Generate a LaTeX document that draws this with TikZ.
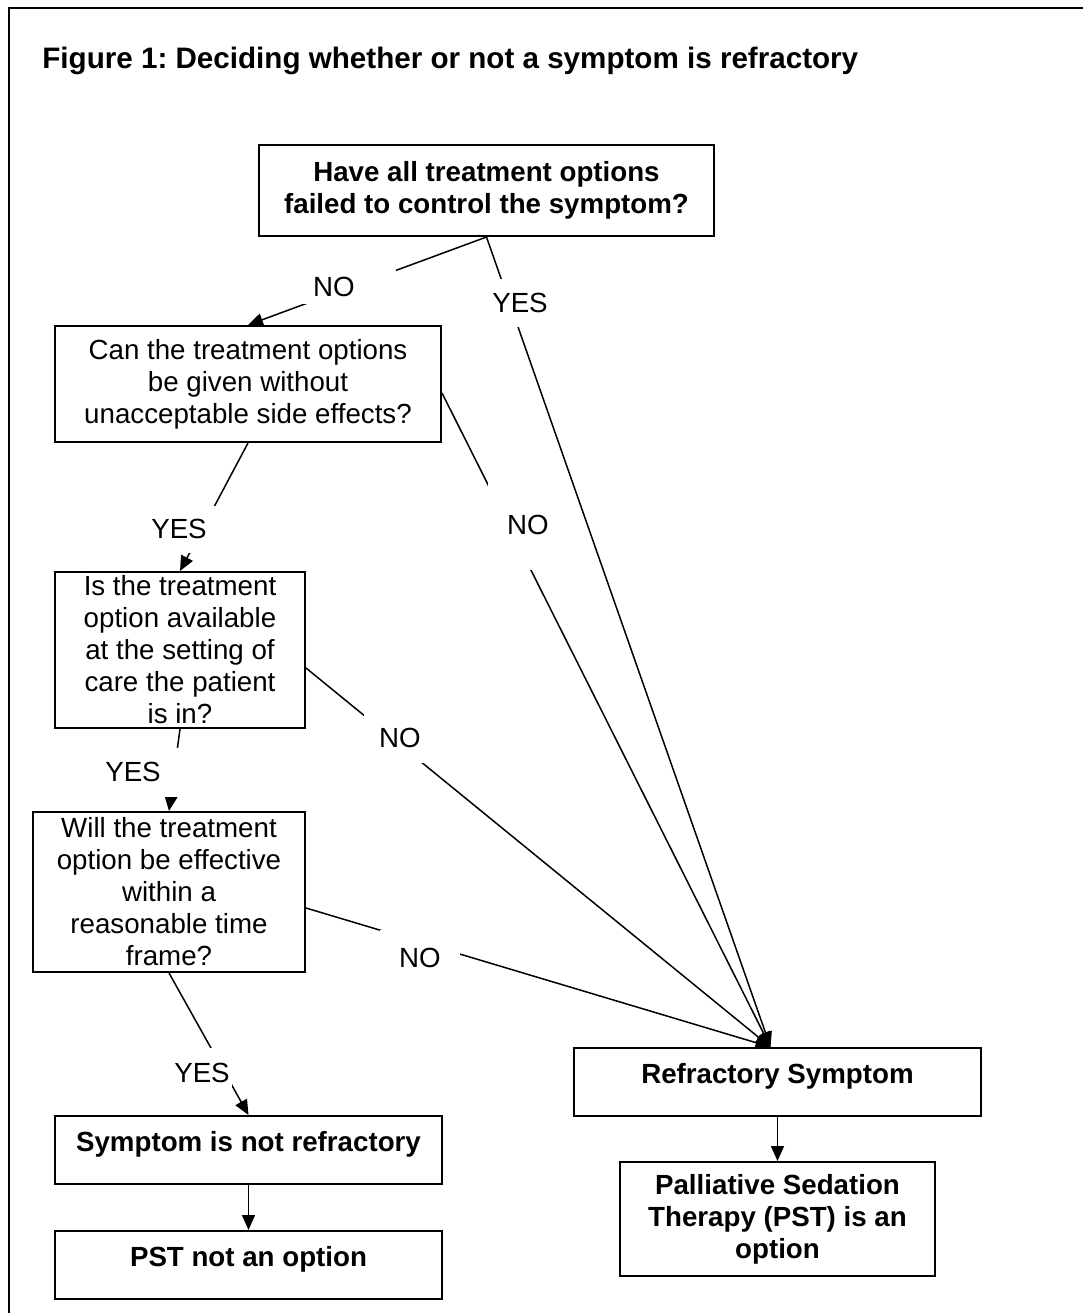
\documentclass[tikz,border=0pt]{standalone}
\usepackage{fontspec}
\setmainfont{Liberation Sans}
\usetikzlibrary{positioning,arrows.meta}
\newcommand{\boxfont}{\fontsize{13.85}{16}\selectfont}
\newcommand{\headfont}{\fontsize{14.8}{17}\selectfont\bfseries}
\tikzset{
  qbox/.style={draw, line width=1pt, align=center, inner sep=0pt, font=\boxfont},
  qbold/.style={qbox, font=\boxfont\bfseries},
  endbox/.style={qbold, text depth=9pt},
  lbl/.style={fill=white, inner sep=0pt, font=\boxfont},
  conn/.style={->, line width=0.75pt},
  frameline/.style={line width=1pt},
  >={Triangle[length=7.5pt,width=6.5pt]},
}
\begin{document}
\frenchspacing
\begin{tikzpicture}[x=0.5pt,y=-0.5pt]
\useasboundingbox (0,0) rectangle (1083,1313);
\draw[frameline] (9,1313) -- (9,8) -- (1083,8);
\node[anchor=west, inner sep=0pt, font=\headfont] (title) at (42,61)
  {Figure 1: Deciding whether or not a symptom is refractory};

% questions
\node[qbold, minimum width=227.5pt, minimum height=45.5pt] (q1) at (486.5,190.5)
  {Have all treatment options\\failed to control the symptom?};
\node[qbox, minimum width=193pt, minimum height=58pt] (q2) at (248,384)
  {Can the treatment options\\be given without\\unacceptable side effects?};
\node[qbox, minimum width=125pt, minimum height=78pt] (q3) at (180,650)
  {Is the treatment\\option available\\at the setting of\\care the patient\\is in?};
\node[qbox, minimum width=136pt, minimum height=80pt] (q4) at (169,892)
  {Will the treatment\\option be effective\\within a\\reasonable time\\frame?};

% outcomes
\node[endbox, minimum width=203.5pt, minimum height=34pt] (refr) at (777.5,1082)
  {Refractory Symptom};
\node[qbold, minimum width=157.5pt, minimum height=57pt, below=22pt of refr] (pst)
  {Palliative Sedation\\Therapy (PST) is an\\option};
\node[endbox, minimum width=193.5pt, minimum height=34pt] (notref) at (248.5,1150)
  {Symptom is not refractory};
\node[endbox, minimum width=193.5pt, minimum height=34pt, below=22.5pt of notref] (nopst)
  {PST not an option};
\coordinate (hit) at ([xshift=-3.5pt]refr.north);

\draw[conn] (q1.south) -- (q2.north);
\draw[conn] (q1.south) -- (hit);
\draw[conn] ([yshift=-4.5pt]q2.east) -- (hit);
\draw[conn] (q2.south) -- (q3.north);
\draw[conn] ([yshift=-9pt]q3.east) -- (hit);
\draw[conn] (q3.south) -- (q4.north);
\draw[conn] ([yshift=-8pt]q4.east) -- (hit);
\draw[conn] (q4.south) -- (notref.north);
\draw[conn] (notref) -- (nopst);
\draw[conn] (refr) -- (pst);

% answers
\node[lbl, minimum width=62pt, minimum height=17pt] (no1) at (334,287) {NO};
\node[lbl, minimum width=35pt, minimum height=24pt] (yes1) at (520,303) {YES};
\node[lbl, minimum width=40pt, minimum height=45pt] (no2) at (528,525) {NO};
\node[lbl, minimum width=38pt, minimum height=23.5pt] (yes2) at (179,529) {YES};
\node[lbl, minimum width=36pt, minimum height=25pt] (no3) at (400,738) {NO};
\node[lbl, minimum width=40pt, minimum height=28pt] (no4) at (420,958) {NO};
\node[lbl, minimum width=46pt, minimum height=24.5pt] (yes3) at (133,772) {YES};
\node[lbl, minimum width=30pt, minimum height=25pt] (yes4) at (202,1073) {YES};
\end{tikzpicture}
\end{document}
